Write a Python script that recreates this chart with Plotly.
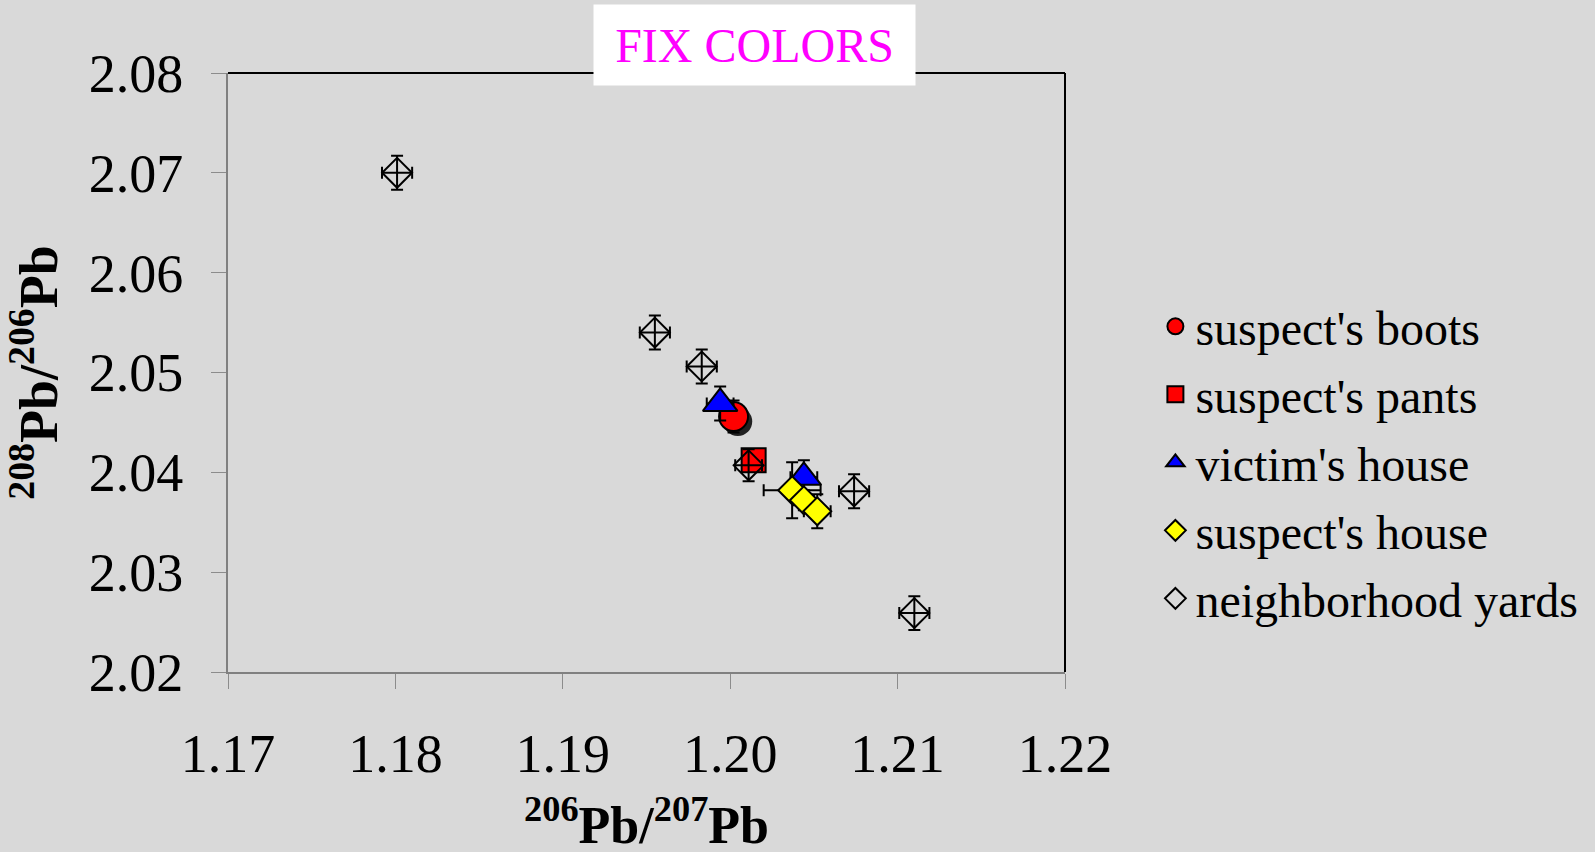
import plotly.graph_objects as go

# ---- data ----
boots_x = [1.2002]
boots_y = [2.0456]
boots_xerr = [0.0007]
boots_yerr = [0.0016]

pants_x = [1.2014]
pants_y = [2.0412]
pants_xerr = [0.0006]
pants_yerr = [0.0010]

victim_x = [1.1994, 1.2044]
victim_y = [2.0469, 2.0395]
victim_xerr = [0.0008, 0.0008]
victim_yerr = [0.0017, 0.0017]

shouse_x = [1.2037, 1.2044, 1.2052]
shouse_y = [2.0382, 2.0372, 2.0361]
shouse_xerr = [0.0017, 0.0006, 0.0008]
shouse_yerr = [0.0028, 0.0010, 0.0017]

yards_x = [1.1801, 1.1955, 1.1983, 1.2011, 1.2074, 1.2110]
yards_y = [2.0700, 2.0540, 2.0506, 2.0407, 2.0381, 2.0259]
yards_xerr = [0.0009, 0.0009, 0.0009, 0.0008, 0.0009, 0.0009]
yards_yerr = [0.0017, 0.0017, 0.0017, 0.0016, 0.0017, 0.0017]

series_names = ["suspect's boots", "suspect's pants", "victim's house",
                "suspect's house", "neighborhood yards"]

x_ticks = [1.17, 1.18, 1.19, 1.20, 1.21, 1.22]
y_ticks = [2.02, 2.03, 2.04, 2.05, 2.06, 2.07, 2.08]

x_title = "<sup>206</sup>Pb/<sup>207</sup>Pb"
y_title = "<sup>208</sup>Pb/<sup>206</sup>Pb"

SERIF = "Liberation Serif"
BG = "#d9d9d9"


def ebar(vals):
    return dict(type="data", array=vals, visible=True, color="black",
                thickness=2, width=6)


fig = go.Figure()

# soft shadow behind the boots marker
fig.add_trace(go.Scatter(
    x=[v + 0.00025 for v in boots_x], y=[v - 0.0005 for v in boots_y],
    mode="markers", showlegend=False, hoverinfo="skip",
    marker=dict(symbol="circle", size=29, color="rgba(0,0,0,0.85)",
                line=dict(width=0))))

fig.add_trace(go.Scatter(
    x=boots_x, y=boots_y, mode="markers", name=series_names[0],
    legendgroup="g1",
    error_x=ebar(boots_xerr), error_y=ebar(boots_yerr),
    marker=dict(symbol="circle", size=29, color="#ff0000",
                line=dict(color="black", width=2))))

fig.add_trace(go.Scatter(
    x=pants_x, y=pants_y, mode="markers", name=series_names[1],
    legendgroup="g2",
    error_x=ebar(pants_xerr), error_y=ebar(pants_yerr),
    marker=dict(symbol="square", size=24, color="#ff0000",
                line=dict(color="black", width=2))))

fig.add_trace(go.Scatter(
    x=victim_x, y=victim_y, mode="markers", name=series_names[2],
    legendgroup="g3",
    error_x=ebar(victim_xerr), error_y=ebar(victim_yerr),
    marker=dict(symbol="triangle-up", size=30, color="#0000ff",
                line=dict(color="black", width=2))))

fig.add_trace(go.Scatter(
    x=shouse_x, y=shouse_y, mode="markers", name=series_names[3],
    legendgroup="g4",
    error_x=ebar(shouse_xerr), error_y=ebar(shouse_yerr),
    marker=dict(symbol="diamond", size=21.5, color="#ffff00",
                line=dict(color="black", width=2))))

fig.add_trace(go.Scatter(
    x=yards_x, y=yards_y, mode="markers", name=series_names[4],
    legendgroup="g5",
    error_x=ebar(yards_xerr), error_y=ebar(yards_yerr),
    marker=dict(symbol="diamond-open", size=23, color="black",
                line=dict(color="black", width=2))))

axis_common = dict(
    showgrid=False, zeroline=False, ticks="outside", ticklen=15,
    tickwidth=1, tickcolor="#8c8c8c", showline=True, linecolor="#808080",
    linewidth=2, tickformat=".2f", automargin=False,
    tickfont=dict(family=SERIF, size=54, color="black"),
)

fig.update_layout(
    width=1595, height=852,
    margin=dict(l=228, r=527, t=73, b=180),
    paper_bgcolor=BG, plot_bgcolor=BG,
    xaxis=dict(range=[x_ticks[0], x_ticks[-1]], tickvals=x_ticks,
               ticklabelstandoff=18,
               **axis_common),
    yaxis=dict(range=[y_ticks[0], y_ticks[-1]], tickvals=y_ticks,
               ticklabelstandoff=17,
               title=dict(text=y_title,
                          font=dict(family=SERIF, size=54, color="black",
                                    weight="bold"),
                          standoff=22),
               **axis_common),
    legend=dict(x=1.108, xanchor="left", y=0.64, yanchor="top",
                bgcolor="rgba(0,0,0,0)", traceorder="grouped",
                tracegroupgap=2.6,
                font=dict(family=SERIF, size=48, color="black")),
    shapes=[
        dict(type="line", xref="paper", yref="paper", x0=0, x1=1, y0=1, y1=1,
             line=dict(color="black", width=2)),
        dict(type="line", xref="paper", yref="paper", x0=1, x1=1, y0=0, y1=1,
             line=dict(color="black", width=2)),
    ],
    annotations=[
        dict(text="FIX COLORS", xref="paper", yref="paper",
             x=(756.5 - 228) / 840, y=(671.7 - 45) / 599,
             xanchor="center", yanchor="middle", showarrow=False,
             bgcolor="white", width=317, height=76, borderpad=2,
             font=dict(family=SERIF, size=48, color="#ff00ff")),
        dict(text=x_title, xref="paper", yref="paper",
             x=0.5, y=(671.7 - 856) / 599,
             xanchor="center", yanchor="bottom", showarrow=False,
             font=dict(family=SERIF, size=52, color="black", weight="bold")),
    ],
    showlegend=True,
)

fig.write_html("out.html")
